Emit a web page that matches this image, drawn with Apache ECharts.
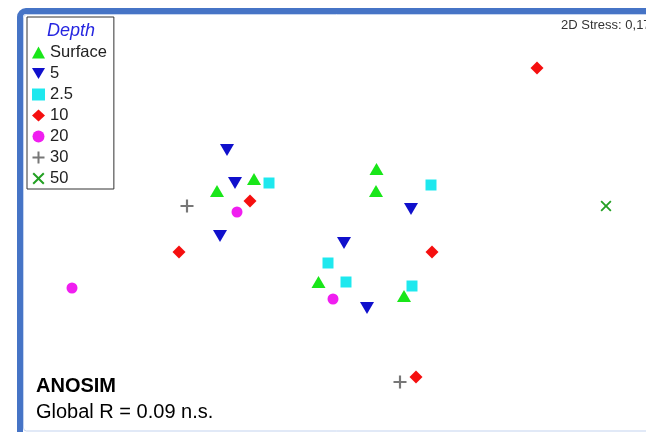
<!DOCTYPE html>
<html>
<head>
<meta charset="utf-8">
<script src="https://cdn.jsdelivr.net/npm/echarts@6/dist/echarts.min.js"></script>
<style>
  html, body { margin: 0; padding: 0; background: #fff; }
  #chart { width: 646px; height: 432px; }
</style>
</head>
<body>
<div id="chart"></div>
<script>
// nMDS ordination, samples grouped by depth
const depthGroups = ['Surface', '5', '2.5', '10', '20', '30', '50'];

const surfacePts = [[-1.06, 0.25], [-0.69, 0.37], [0.535, 0.47], [0.53, 0.25], [-0.045, -0.66], [0.81, -0.80]];
const depth5Pts = [[-0.96, 0.66], [-0.88, 0.33], [-1.03, -0.20], [0.88, 0.07], [0.21, -0.27], [0.44, -0.92]];
const depth25Pts = [[-0.54, 0.33], [1.08, 0.31], [0.05, -0.47], [0.23, -0.66], [0.89, -0.70]];
const depth10Pts = [[2.14, 1.48], [-0.73, 0.15], [-1.44, -0.36], [1.09, -0.36], [0.93, -1.61]];
const depth20Pts = [[-0.86, 0.04], [0.10, -0.83], [-2.51, -0.72]];
const depth30Pts = [[-1.36, 0.10], [0.77, -1.66]];
const depth50Pts = [[2.83, 0.10]];

const stressText = '2D Stress: 0,17';
const anosimTitle = 'ANOSIM';
const anosimResult = 'Global R = 0.09 n.s.';

const triDown = 'path://M0,0 L14,0 L7,12 Z';
const plusSym = 'path://M5,0H7V5H12V7H7V12H5V7H0V5H5Z';
const crossSym = 'path://M1.4,0 L6,4.6 L10.6,0 L12,1.4 L7.4,6 L12,10.6 L10.6,12 L6,7.4 L1.4,12 L0,10.6 L4.6,6 L0,1.4 Z';

const groupData = [surfacePts, depth5Pts, depth25Pts, depth10Pts, depth20Pts, depth30Pts, depth50Pts];
const groupStyle = [
  { symbol: 'triangle', size: [14, 12], color: '#19e619' },
  { symbol: triDown, size: [14, 12], color: '#1010cc' },
  { symbol: 'rect', size: [11, 11], color: '#1ee8ee' },
  { symbol: 'diamond', size: [13, 13], color: '#f50f0f' },
  { symbol: 'circle', size: [11, 11], color: '#f01ef0' },
  { symbol: plusSym, size: [13, 13], color: '#777777' },
  { symbol: crossSym, size: [11, 11], color: '#22a022' }
];

const series = depthGroups.map((name, i) => ({
  name: name,
  type: 'scatter',
  data: groupData[i],
  symbol: groupStyle[i].symbol,
  symbolSize: groupStyle[i].size,
  itemStyle: { color: groupStyle[i].color, opacity: 1 },
  emphasis: { disabled: true },
  z: 3
}));

const chart = echarts.init(document.getElementById('chart'), null, { renderer: 'canvas' });
chart.setOption({
  animation: false,
  backgroundColor: '#ffffff',
  grid: { left: 0, right: 0, top: 0, bottom: 0 },
  xAxis: { type: 'value', min: -3.23, max: 3.23, show: false },
  yAxis: { type: 'value', min: -2.16, max: 2.16, show: false },
  legend: {
    data: depthGroups,
    orient: 'vertical',
    left: 27,
    top: 17,
    padding: [27, 7, 2, 5],
    itemWidth: 13,
    itemHeight: 12,
    itemGap: 4,
    borderColor: '#333',
    borderWidth: 1,
    backgroundColor: '#fff',
    textStyle: { fontFamily: 'Liberation Sans, Arial, sans-serif', fontSize: 16.5, color: '#222', padding: [0, 0, 0, 0] },
    selectedMode: false,
    z: 5
  },
  graphic: [
    {
      type: 'rect',
      shape: { x: 20, y: 11, width: 680, height: 428, r: 6 },
      style: { fill: 'none', stroke: '#4674c6', lineWidth: 6 },
      z: 10, silent: true
    },
    {
      type: 'rect',
      shape: { x: 23.5, y: 14.5, width: 680, height: 416.5, r: 3 },
      style: { fill: 'none', stroke: '#c3d3ef', lineWidth: 1 },
      z: 10, silent: true
    },
    {
      type: 'text',
      x: 71, y: 31,
      style: { text: 'Depth', fontFamily: 'Liberation Sans, Arial, sans-serif', fontSize: 18, fontStyle: 'italic', fill: '#2626e0', textAlign: 'center', textVerticalAlign: 'middle' },
      z: 11
    },
    {
      type: 'text',
      x: 561, y: 25,
      style: { text: stressText, fontFamily: 'Liberation Sans, Arial, sans-serif', fontSize: 13, fill: '#333', textAlign: 'left', textVerticalAlign: 'middle' },
      z: 11
    },
    {
      type: 'text',
      x: 36, y: 386,
      style: { text: anosimTitle, fontFamily: 'Liberation Sans, Arial, sans-serif', fontSize: 20, fontWeight: 'bold', fill: '#000', textAlign: 'left', textVerticalAlign: 'middle' },
      z: 11
    },
    {
      type: 'text',
      x: 36, y: 412,
      style: { text: anosimResult, fontFamily: 'Liberation Sans, Arial, sans-serif', fontSize: 20, fill: '#000', textAlign: 'left', textVerticalAlign: 'middle' },
      z: 11
    }
  ],
  series: series
});
</script>
</body>
</html>
